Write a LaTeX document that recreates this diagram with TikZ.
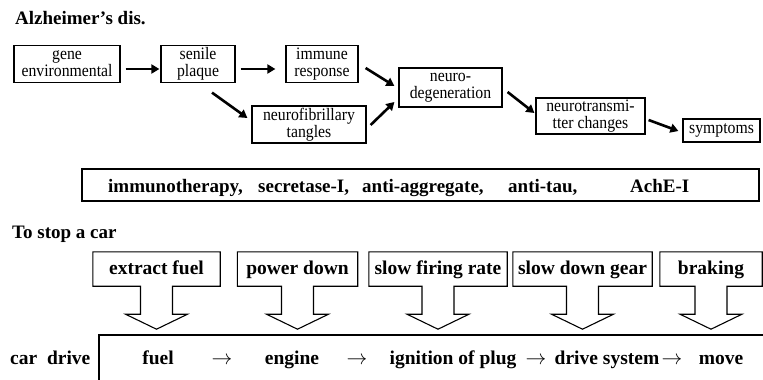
\documentclass[tikz,border=0pt]{standalone}
\usepackage{fontspec}
\setmainfont{Liberation Serif}
\usetikzlibrary{arrows.meta,positioning,calc}

% outlined box with a hollow arrow pointing down
\newcommand{\stoparrow}[1]{%
  \draw[stopline] ($(#1.south)+(-16,0)$) -- (#1.south west) -- (#1.north west)
    -- (#1.north east) -- (#1.south east) -- ($(#1.south)+(16,0)$)
    -- ++(0,28) -- ++(15,0) -- ($(#1.south)+(0,43)$) -- ($(#1.south)+(-31,28)$)
    -- ++(15,0) -- cycle;}

\begin{document}
\begin{tikzpicture}[x=1pt,y=-1pt]
    \tikzset{cellbox/.style={draw,line width=1.2pt,align=center,inner sep=1pt,
      font=\fontsize{17.5}{17}\selectfont\addfontfeature{FakeStretch=0.9}},
      flow/.style={-{Triangle[length=8pt,width=9pt]},line width=2.6pt},
      cutbox/.style={inner sep=2pt,minimum height=34pt,text height=14pt,text depth=4pt,
        font=\fontsize{19.5}{20}\selectfont\bfseries},
      stopline/.style={line width=1.1pt,line join=miter},
      rowtext/.style={inner sep=0pt,anchor=base,font=\fontsize{19.5}{20}\selectfont\bfseries},
      headtext/.style={inner sep=0pt,anchor=base west,font=\fontsize{19}{20}\selectfont\bfseries},
      drugtext/.style={inner sep=0pt,anchor=base west,font=\fontsize{19}{19}\selectfont\bfseries}}
    \useasboundingbox (0,0) rectangle (763,380);

    % disease chain
    \node[headtext] (alz) at (15,24) {Alzheimer’s dis.};
    \node[cellbox,minimum width=106pt,minimum height=37pt] (gene) at (67,64) {gene\\environmental};
    \node[cellbox,minimum width=74pt,minimum height=37pt] (senile) at (198,64) {senile\\plaque};
    \node[cellbox,minimum width=72pt,minimum height=37pt] (immune) at (322,64) {immune\\response};
    \node[cellbox,minimum width=114pt,minimum height=37pt] (tangles) at (309,124.5) {neurofibrillary\\tangles};
    \node[cellbox,minimum width=103pt,minimum height=39pt] (neuro) at (450.5,87.5) {neuro-\\degeneration};
    \node[cellbox,minimum width=109pt,minimum height=36pt] (transm) at (590.5,116) {neurotransmi-\\tter changes};
    \node[cellbox,minimum width=77pt,minimum height=23pt] (sympt) at (721.5,130.5) {symptoms};
    \draw[flow] ([xshift=5pt,yshift=-5pt]gene.east) -- ([xshift=-1pt,yshift=-5pt]senile.west);
    \draw[flow] ([xshift=5pt,yshift=-5pt]senile.east) -- ([xshift=-10pt,yshift=-5pt]immune.west);
    \draw[flow] ([xshift=14pt,yshift=-9.5pt]senile.south) -- ([xshift=-4pt,yshift=6.5pt]tangles.west);
    \draw[flow] ([xshift=7pt,yshift=-4pt]immune.east) -- ([xshift=-4pt,yshift=1.5pt]neuro.west);
    \draw[flow] ([xshift=4pt,yshift=-0.5pt]tangles.east) -- ([xshift=-4pt,yshift=-14.5pt]neuro.west);
    \draw[flow] ([xshift=5pt,yshift=-4.5pt]neuro.east) -- ([xshift=-1pt,yshift=3pt]transm.west);
    \draw[flow] ([xshift=3pt,yshift=-4pt]transm.east) -- ([xshift=-4pt,yshift=-0.5pt]sympt.west);

    % drugs
    \node[draw,line width=1.2pt,minimum width=677pt,minimum height=32pt,inner sep=0pt] (drugs) at (420.5,185) {};
    \node[drugtext] (immuno) at (108,192) {immunotherapy,};
    \node[drugtext] (secret) at (258,192) {secretase-I,};
    \node[drugtext] (aggreg) at (362,192) {anti-aggregate,};
    \node[drugtext] (antitau) at (508,192) {anti-tau,};
    \node[drugtext] (ache) at (630,192) {AchE-I};

    % car analogy
    \node[headtext] (stopcar) at (12,238) {To stop a car};
    \node[cutbox,minimum width=127pt] (xfuel) at (156.5,269) {extract fuel};
    \node[cutbox,minimum width=120pt] (pdown) at (297.5,269) {power down};
    \node[cutbox,minimum width=138pt] (sfire) at (438,269) {slow firing rate};
    \node[cutbox,minimum width=139pt] (sgear) at (582.5,269) {slow down gear};
    \node[cutbox,minimum width=102pt] (brake) at (711,269) {braking};
    \foreach \c in {xfuel,pdown,sfire,sgear,brake} {\stoparrow{\c}}

    \coordinate (drivetop) at (99,335);
    \draw[stopline] (99,382) -- (drivetop) -- (764,335);
    \node[rowtext,anchor=base west] (cardrive) at (10,364) {car\ \ drive};
    \node[rowtext] (fuel) at (158,364) {fuel};
    \node[rowtext] (to1) at (222,364) {$\rightarrow$};
    \node[rowtext] (engine) at (292,364) {engine};
    \node[rowtext] (to2) at (357,364) {$\rightarrow$};
    \node[rowtext] (plug) at (453,364) {ignition of plug};
    \node[rowtext] (to3) at (536,364) {$\rightarrow$};
    \node[rowtext] (drivesys) at (607,364) {drive system};
    \node[rowtext] (to4) at (672,364) {$\rightarrow$};
    \node[rowtext] (move) at (721,364) {move};
  \end{tikzpicture}
\end{document}
